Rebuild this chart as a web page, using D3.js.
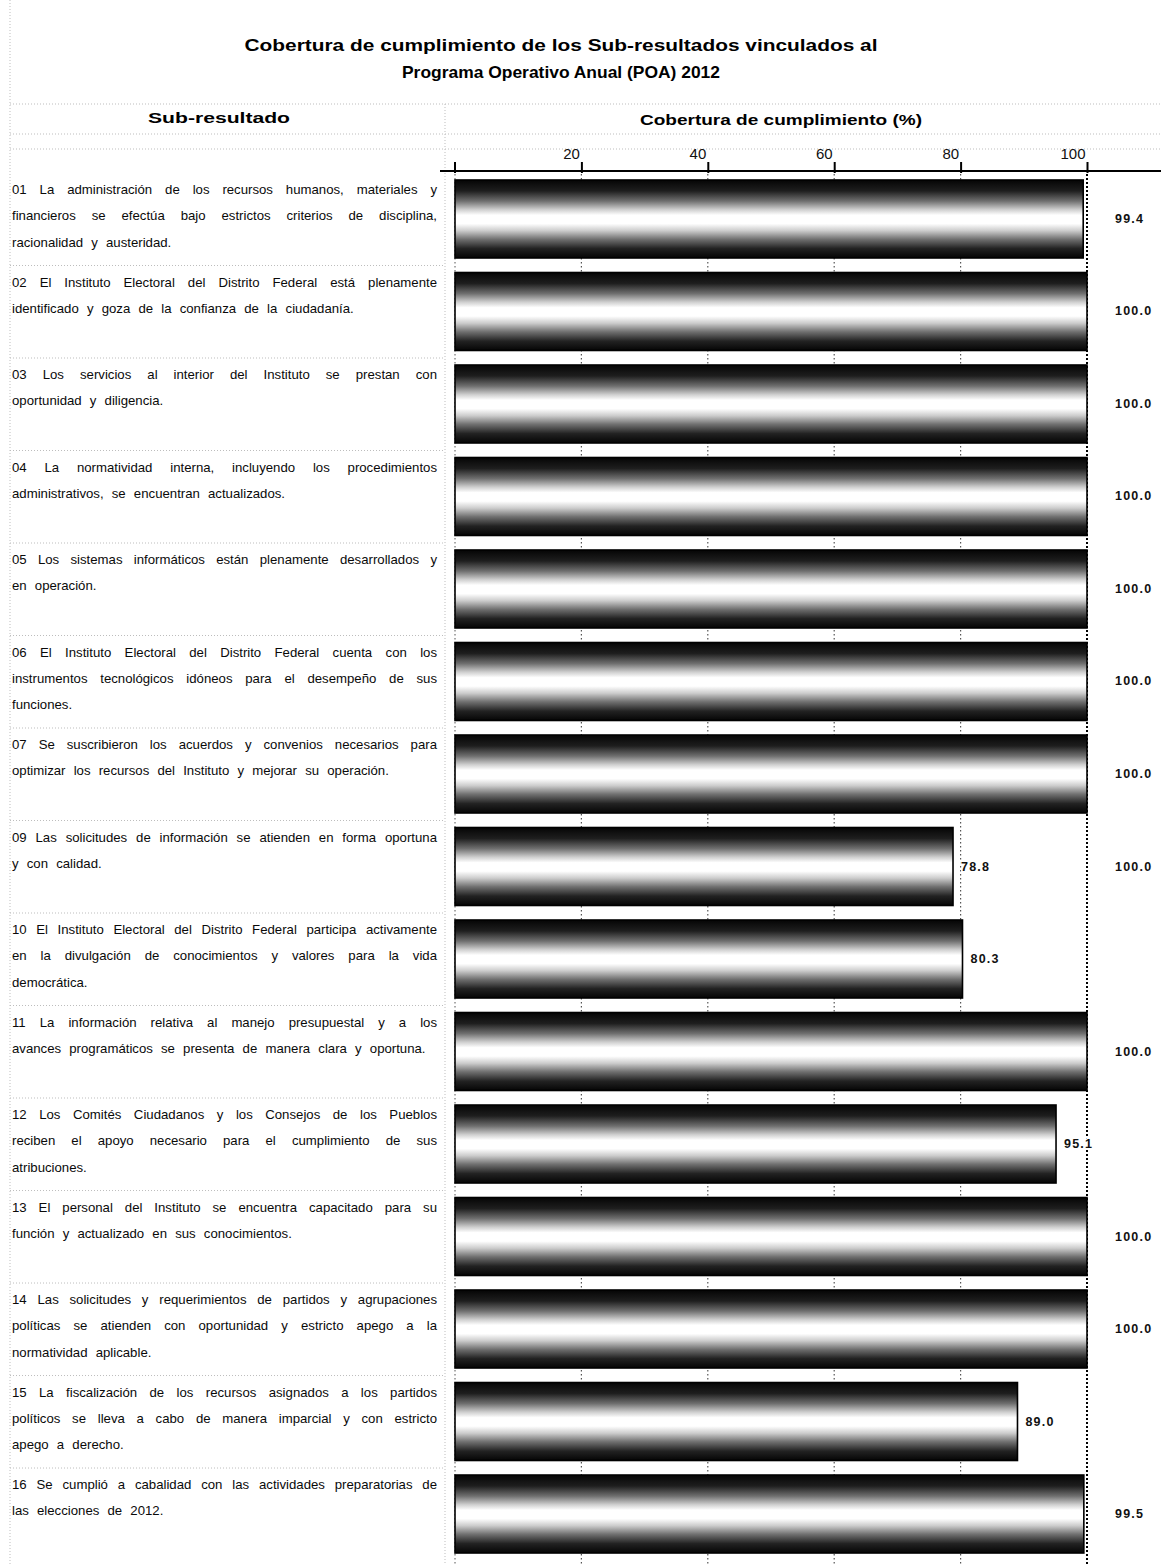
<!DOCTYPE html>
<html>
<head>
<meta charset="UTF-8">
<title>Cobertura POA 2012</title>
<style>
  body { margin: 0; background: #fff; }
  text { font-family: Arial, "Liberation Sans", sans-serif; }
</style>
</head>
<body>
<script src="https://d3js.org/d3.v7.min.js"></script>
<script>
// datos
var codes = ["01", "02", "03", "04", "05", "06", "07", "09", "10", "11", "12", "13", "14", "15", "16"];
var values = [99.4, 100, 100, 100, 100, 100, 100, 78.8, 80.3, 100, 95.1, 100, 100, 89.0, 99.5];
// etiqueta suelta que aparece en la fila 09
var extraLabels = [null, null, null, null, null, null, null, "100.0", null, null, null, null, null, null, null];
var tickValues = [20, 40, 60, 80, 100];
var descriptions = [
  ["01 La administración de los recursos humanos, materiales y", "financieros se efectúa bajo estrictos criterios de disciplina,", "racionalidad y austeridad."],
  ["02 El Instituto Electoral del Distrito Federal está plenamente", "identificado y goza de la confianza de la ciudadanía."],
  ["03 Los servicios al interior del Instituto se prestan con", "oportunidad y diligencia."],
  ["04 La normatividad interna, incluyendo los procedimientos", "administrativos, se encuentran actualizados."],
  ["05 Los sistemas informáticos están plenamente desarrollados y", "en operación."],
  ["06 El Instituto Electoral del Distrito Federal cuenta con los", "instrumentos tecnológicos idóneos para el desempeño de sus", "funciones."],
  ["07 Se suscribieron los acuerdos y convenios necesarios para", "optimizar los recursos del Instituto y mejorar su operación."],
  ["09 Las solicitudes de información se atienden en forma oportuna", "y con calidad."],
  ["10 El Instituto Electoral del Distrito Federal participa activamente", "en la divulgación de conocimientos y valores para la vida", "democrática."],
  ["11 La información relativa al manejo presupuestal y a los", "avances programáticos se presenta de manera clara y oportuna."],
  ["12 Los Comités Ciudadanos y los Consejos de los Pueblos", "reciben el apoyo necesario para el cumplimiento de sus", "atribuciones."],
  ["13 El personal del Instituto se encuentra capacitado para su", "función y actualizado en sus conocimientos."],
  ["14 Las solicitudes y requerimientos de partidos y agrupaciones", "políticas se atienden con oportunidad y estricto apego a la", "normatividad aplicable."],
  ["15 La fiscalización de los recursos asignados a los partidos", "políticos se lleva a cabo de manera imparcial y con estricto", "apego a derecho."],
  ["16 Se cumplió a cabalidad con las actividades preparatorias de", "las elecciones de 2012."]
];

var width = 1161, height = 1565;
var svg = d3.select("body").append("svg")
  .attr("width", width)
  .attr("height", height);

var x = d3.scaleLinear().domain([0, 100]).range([455, 1087]);
var y = d3.scaleBand().domain(codes).range([172.6, 1560.4])
  .paddingInner(0.157).paddingOuter(0.08);

// degradado tipo cilindro
var defs = svg.append("defs");
var grad = defs.append("linearGradient")
  .attr("id", "cyl").attr("x1", 0).attr("y1", 0).attr("x2", 0).attr("y2", 1);
[[0, "#050505"], [0.14, "#1e1e1e"], [0.27, "#6f6f6f"], [0.38, "#cfcfcf"], [0.45, "#ffffff"],
 [0.56, "#ffffff"], [0.65, "#cccccc"], [0.76, "#707070"], [0.88, "#222222"], [1, "#050505"]]
  .forEach(function(s) {
    grad.append("stop").attr("offset", s[0]).attr("stop-color", s[1]);
  });

// lineas punteadas tenues de la tabla
var faint = svg.append("g").attr("stroke", "#bdbdbd").attr("stroke-dasharray", "1,2").attr("stroke-width", 1);
[104, 134, 149].forEach(function(yy) {
  faint.append("line").attr("x1", 10).attr("x2", width).attr("y1", yy).attr("y2", yy);
});
faint.append("line").attr("x1", 10).attr("x2", 10).attr("y1", 0).attr("y2", height);
faint.append("line").attr("x1", 445).attr("x2", 445).attr("y1", 104).attr("y2", height);
codes.forEach(function(c, i) {
  if (i == 0) return;
  var yy = y(c) - 7;
  faint.append("line").attr("x1", 10).attr("x2", 445).attr("y1", yy).attr("y2", yy);
});

// titulo
svg.append("text").attr("x", 561).attr("y", 51).attr("text-anchor", "middle")
  .attr("font-size", 17).attr("font-weight", "bold")
  .attr("textLength", 633).attr("lengthAdjust", "spacingAndGlyphs")
  .text("Cobertura de cumplimiento de los Sub-resultados vinculados al");
svg.append("text").attr("x", 561).attr("y", 78).attr("text-anchor", "middle")
  .attr("font-size", 17).attr("font-weight", "bold")
  .attr("textLength", 318).attr("lengthAdjust", "spacingAndGlyphs")
  .text("Programa Operativo Anual (POA) 2012");

// encabezados
svg.append("text").attr("x", 219).attr("y", 123).attr("text-anchor", "middle")
  .attr("font-size", 14).attr("font-weight", "bold")
  .attr("textLength", 142).attr("lengthAdjust", "spacingAndGlyphs")
  .text("Sub-resultado");
svg.append("text").attr("x", 781).attr("y", 125).attr("text-anchor", "middle")
  .attr("font-size", 14).attr("font-weight", "bold")
  .attr("textLength", 282).attr("lengthAdjust", "spacingAndGlyphs")
  .text("Cobertura de cumplimiento (%)");

// rejilla vertical
var grid = svg.append("g");
tickValues.forEach(function(t) {
  grid.append("line")
    .attr("x1", x(t)).attr("x2", x(t))
    .attr("y1", 170).attr("y2", height)
    .attr("stroke", t == 100 ? "#000" : "#555")
    .attr("stroke-width", t == 100 ? 2 : 1.2)
    .attr("stroke-dasharray", t == 100 ? "2,2" : "1.5,2.5");
});
grid.append("line").attr("x1", x(0)).attr("x2", x(0))
  .attr("y1", 170).attr("y2", height)
  .attr("stroke", "#555").attr("stroke-dasharray", "1.5,2.5");

// eje superior
var axis = svg.append("g").attr("transform", "translate(0,170)")
  .call(d3.axisTop(x).tickValues(tickValues).tickSize(8).tickSizeOuter(0));
axis.select(".domain").remove();
axis.selectAll(".tick line").attr("stroke", "#000").attr("stroke-width", 2).attr("y2", -8).attr("y1", 3);
axis.selectAll(".tick text")
  .attr("font-size", 15).attr("font-family", "Arial, 'Liberation Sans', sans-serif")
  .attr("text-anchor", "end").attr("dx", -2).attr("y", -11).attr("fill", "#111");
svg.append("line").attr("x1", 440).attr("x2", width).attr("y1", 171).attr("y2", 171)
  .attr("stroke", "#000").attr("stroke-width", 2);
svg.append("line").attr("x1", x(0)).attr("x2", x(0)).attr("y1", 162).attr("y2", 173)
  .attr("stroke", "#000").attr("stroke-width", 2);

// barras
svg.append("g").selectAll("rect").data(codes).join("rect")
  .attr("x", x(0))
  .attr("y", function(d) { return y(d); })
  .attr("width", function(d, i) { return x(values[i]) - x(0); })
  .attr("height", y.bandwidth())
  .attr("fill", "url(#cyl)")
  .attr("stroke", "#000")
  .attr("stroke-width", 1.6);

// etiquetas de valor (con halo blanco para tapar la rejilla)
function valueLabel(sel) {
  sel.attr("font-size", 12.5).attr("font-weight", "bold")
    .attr("letter-spacing", 1.2).attr("fill", "#111")
    .attr("stroke", "#fff").attr("stroke-width", 3)
    .attr("paint-order", "stroke");
}
svg.append("g").selectAll("text").data(codes).join("text")
  .attr("x", function(d, i) { return values[i] >= 99 ? x(100) + 28 : x(values[i]) + 8; })
  .attr("y", function(d) { return y(d) + y.bandwidth() / 2 + 4; })
  .call(valueLabel)
  .text(function(d, i) { return values[i].toFixed(1); });
svg.append("g").selectAll("text").data(codes.filter(function(d, i) { return extraLabels[i]; })).join("text")
  .attr("x", x(100) + 28)
  .attr("y", function(d) { return y(d) + y.bandwidth() / 2 + 4; })
  .call(valueLabel)
  .text(function(d) { return extraLabels[codes.indexOf(d)]; });

// descripciones justificadas
var textLeft = 12, textWidth = 425, lineH = 26.3;
codes.forEach(function(c, i) {
  var lines = descriptions[i];
  lines.forEach(function(line, j) {
    var t = svg.append("text")
      .attr("x", textLeft)
      .attr("y", y(c) + 14 + j * lineH)
      .attr("font-size", 13.2)
      .attr("fill", "#0a0a0a")
      .text(line);
    var spaces = line.split(" ").length - 1;
    if (j < lines.length - 1 && spaces > 0) {
      var len = t.node().getComputedTextLength();
      t.style("word-spacing", ((textWidth - len) / spaces) + "px");
    } else {
      t.style("word-spacing", "4.5px");
    }
  });
});
</script>
</body>
</html>
